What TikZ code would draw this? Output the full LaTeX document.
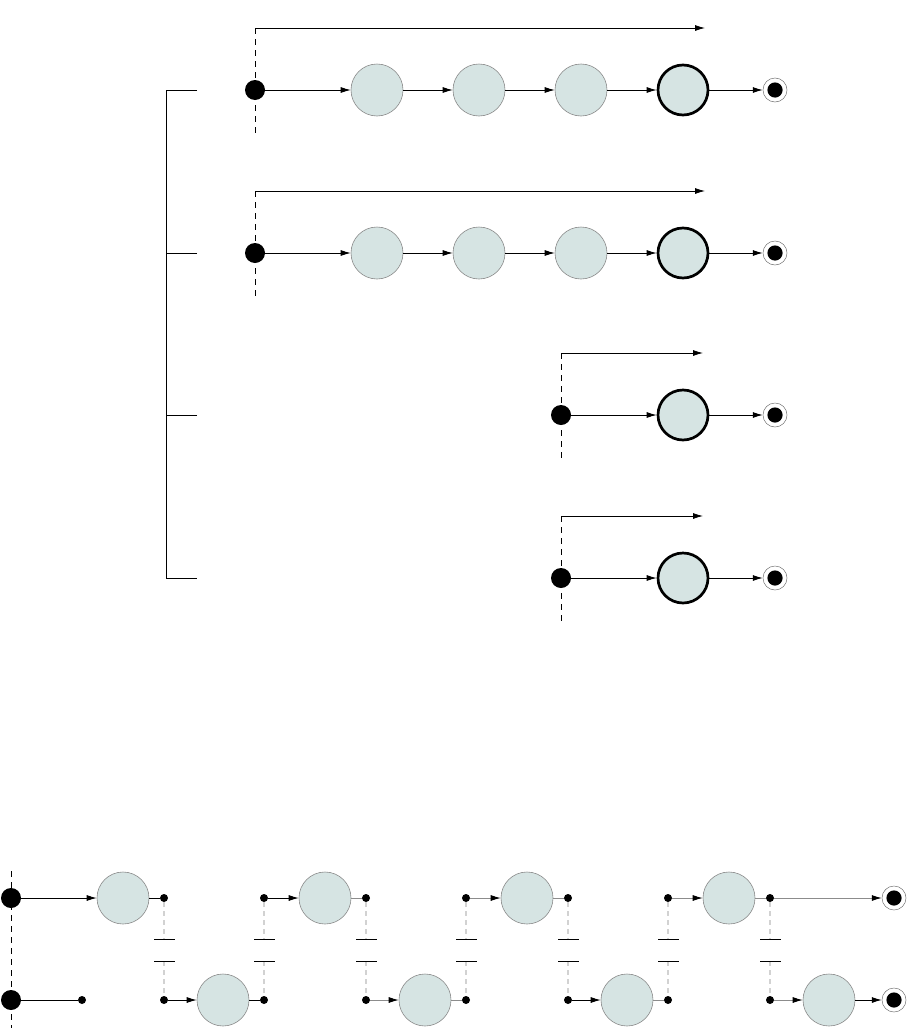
\documentclass[tikz,border=0pt]{standalone}
\usetikzlibrary{arrows.meta}
\definecolor{cfill}{HTML}{D6E4E3}
\definecolor{cline}{HTML}{8A8A8A}
\definecolor{gline}{HTML}{8C8C8C}
\definecolor{dgray}{HTML}{D2D2D2}
\begin{document}
\begin{tikzpicture}[x=1pt,y=-1pt,
  state/.style={circle,draw=cline,fill=cfill,line width=0.6pt,minimum size=52pt,inner sep=0pt},
  bstate/.style={circle,draw=black,fill=cfill,line width=2.7pt,minimum size=50pt,inner sep=0pt},
  init/.style={circle,fill=black,minimum size=20pt,inner sep=0pt},
  sdot/.style={circle,fill=black,minimum size=8pt,inner sep=0pt},
  final/.style={circle,draw=black!55,line width=0.5pt,fill=white,minimum size=24pt,inner sep=0pt,
    path picture={\fill[black] (path picture bounding box.center) circle (7.6pt);}},
  arr/.style={-{Latex[length=10pt,width=6pt,color=black]},line width=0.8pt},
  ln/.style={line width=0.8pt},
  gr/.style={draw=gline},
  vdash/.style={dash pattern=on 6pt off 5pt,line width=0.8pt},
  cdash/.style={draw=dgray,dash pattern=on 5pt off 4pt,line width=1.3pt},
  plate/.style={line width=1pt}
]
\useasboundingbox (0,0) rectangle (907,1028);

% bracket
\coordinate (b1) at (197,90);
\coordinate (b2) at (197,253);
\coordinate (b3) at (197,415);
\coordinate (b4) at (197,578);
\draw[ln] (b1) -| (166,578) -- (b4);
\draw[ln] (b2) -- (166,253);
\draw[ln] (b3) -- (166,415);

% rows 1-2
\foreach \r/\y in {1/90,2/253}{
  \coordinate (t\r) at (255,\y-62);
  \coordinate (u\r) at (705,\y-62);
  \coordinate (v\r) at (255,\y+45);
  \draw[vdash] (t\r) -- (v\r);
  \draw[arr] (t\r) -- (u\r);
  \node[init] (s\r) at (255,\y) {};
  \node[state] (a\r) at (377,\y) {};
  \node[state] (b\r) at (479,\y) {};
  \node[state] (c\r) at (581,\y) {};
  \node[bstate] (d\r) at (683,\y) {};
  \node[final] (f\r) at (775,\y) {};
  \draw[arr] (s\r) -- (a\r);
  \draw[arr] (a\r) -- (b\r);
  \draw[arr] (b\r) -- (c\r);
  \draw[arr] (c\r) -- (d\r);
  \draw[arr] (d\r) -- (f\r);
}

% rows 3-4
\foreach \r/\y in {3/415,4/578}{
  \coordinate (t\r) at (561,\y-62);
  \coordinate (u\r) at (703,\y-62);
  \coordinate (v\r) at (561,\y+47);
  \draw[vdash] (t\r) -- (v\r);
  \draw[arr] (t\r) -- (u\r);
  \node[init] (s\r) at (561,\y) {};
  \node[bstate] (d\r) at (683,\y) {};
  \node[final] (f\r) at (775,\y) {};
  \draw[arr] (s\r) -- (d\r);
  \draw[arr] (d\r) -- (f\r);
}

% bottom section
\coordinate (lt) at (11,871);
\coordinate (lb) at (11,1028);
\draw[vdash] (lt) -- (lb);
\node[init] (L1) at (11,898) {};
\node[init] (L2) at (11,1000) {};

\node[state] (T1) at (123,898) {};
\node[state] (T2) at (325,898) {};
\node[state] (T3) at (527,898) {};
\node[state] (T4) at (729,898) {};
\node[state] (B1) at (223,1000) {};
\node[state] (B2) at (425,1000) {};
\node[state] (B3) at (627,1000) {};
\node[state] (B4) at (829,1000) {};
\node[final] (F1) at (894,898) {};
\node[final] (F2) at (894,1000) {};

\node[sdot] (q0) at (82,1000) {};
\foreach \i/\x in {1/164,2/264,3/366,4/466,5/568,6/668,7/770}{
  \node[sdot] (p\i) at (\x,898) {};
  \node[sdot] (q\i) at (\x,1000) {};
  \coordinate (pu\i) at (\x,939);
  \coordinate (pl\i) at (\x,961);
  \draw[cdash] (p\i) -- (pu\i);
  \draw[cdash] (pl\i) -- (q\i);
  \draw[plate] (\x-10,939) -- (\x+11,939);
  \draw[plate] (\x-10,961) -- (\x+11,961);
}

% top row connectors
\draw[arr] (L1) -- (T1);
\draw[ln] (T1) -- (p1);
\draw[arr] (p2) -- (T2);
\draw[ln,gr] (T2) -- (p3);
\draw[arr,gr] (p4) -- (T3);
\draw[ln,gr] (T3) -- (p5);
\draw[arr,gr] (p6) -- (T4);
\draw[ln,gr] (T4) -- (p7);
\draw[arr,gr] (p7) -- (F1);

% bottom row connectors
\draw[ln] (L2) -- (q0);
\draw[arr] (q1) -- (B1);
\draw[ln] (B1) -- (q2);
\draw[arr,gr] (q3) -- (B2);
\draw[ln,gr] (B2) -- (q4);
\draw[arr] (q5) -- (B3);
\draw[ln,gr] (B3) -- (q6);
\draw[arr,gr] (q7) -- (B4);
\draw[arr] (B4) -- (F2);
\end{tikzpicture}
\end{document}
